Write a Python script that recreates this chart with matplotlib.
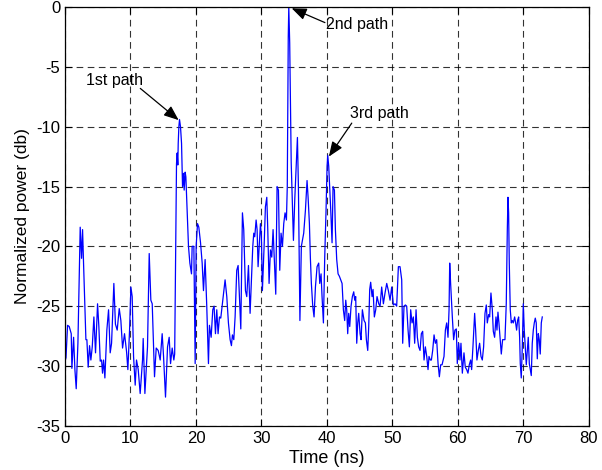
#!/usr/bin/env python3
"""
Normalized channel power delay profile with the three strongest paths marked.
Writes out.png.
"""

import matplotlib
matplotlib.use('Agg')
import matplotlib.pyplot as plt

plt.rcParams['font.family'] = ['Liberation Sans', 'DejaVu Sans']
plt.rcParams['axes.unicode_minus'] = False

# measured profile: time (ns) and normalized power (dB)
time_ns = [
    0.00, 0.15, 0.39, 0.64, 0.95, 1.05, 1.31, 1.51, 1.71, 1.97,
    2.32, 2.53, 2.68, 2.83, 3.19, 3.34, 3.54, 3.75, 3.95, 4.16,
    4.41, 4.66, 4.97, 5.17, 5.38, 5.58, 5.73, 5.89, 6.09, 6.39,
    6.65, 6.90, 7.11, 7.46, 7.70, 7.97, 8.28, 8.53, 8.79, 9.09,
    9.40, 9.60, 9.86, 10.06, 10.26, 10.47, 10.72, 10.92, 11.18, 11.48,
    11.84, 11.94, 12.20, 12.40, 12.60, 12.86, 13.11, 13.32, 13.67, 13.93,
    14.23, 14.54, 14.84, 15.05, 15.35, 15.66, 15.91, 16.12, 16.37, 16.62,
    16.75, 17.03, 17.13, 17.23, 17.29, 17.39, 17.49, 17.64, 17.80, 17.95,
    18.10, 18.20, 18.35, 18.46, 18.66, 18.86, 19.07, 19.32, 19.42, 19.68,
    19.88, 20.03, 20.24, 20.44, 20.70, 20.95, 21.15, 21.40, 21.65, 21.91,
    22.06, 22.32, 22.57, 22.77, 22.98, 23.18, 23.38, 23.59, 23.79, 24.00,
    24.20, 24.45, 24.71, 24.96, 25.22, 25.42, 25.57, 25.78, 25.98, 26.23,
    26.44, 26.64, 26.85, 27.10, 27.30, 27.56, 27.76, 28.02, 28.27, 28.52,
    28.68, 28.83, 28.98, 29.19, 29.34, 29.49, 29.70, 29.85, 30.00, 30.15,
    30.41, 30.61, 30.82, 30.97, 31.17, 31.38, 31.58, 31.78, 31.99, 32.19,
    32.39, 32.60, 32.80, 33.00, 33.21, 33.41, 33.61, 33.82, 33.95, 34.10,
    34.18, 34.32, 34.55, 34.89, 35.10, 35.50, 35.65, 35.88, 36.10, 36.46,
    36.72, 36.97, 37.13, 37.33, 37.48, 37.63, 37.84, 38.04, 38.25, 38.50,
    38.75, 38.91, 39.11, 39.26, 39.47, 39.67, 39.87, 40.03, 40.13, 40.28,
    40.43, 40.59, 40.79, 40.94, 41.15, 41.30, 41.50, 41.71, 41.91, 42.11,
    42.32, 42.52, 42.72, 42.88, 43.03, 43.18, 43.33, 43.49, 43.69, 43.89,
    44.10, 44.25, 44.40, 44.56, 44.71, 44.86, 45.07, 45.22, 45.42, 45.68,
    45.88, 46.03, 46.24, 46.39, 46.54, 46.69, 46.90, 47.05, 47.25, 47.46,
    47.66, 47.92, 48.12, 48.37, 48.63, 48.88, 49.14, 49.39, 49.65, 49.90,
    50.16, 50.41, 50.66, 50.92, 51.17, 51.43, 51.58, 51.78, 51.99, 52.19,
    52.40, 52.60, 52.80, 53.01, 53.21, 53.41, 53.62, 53.82, 54.02, 54.23,
    54.43, 54.63, 54.84, 55.04, 55.25, 55.45, 55.60, 55.80, 55.96, 56.16,
    56.37, 56.57, 56.77, 56.98, 57.18, 57.38, 57.59, 57.89, 58.10, 58.30,
    58.50, 58.66, 58.76, 58.90, 59.16, 59.36, 59.56, 59.77, 59.92, 60.13,
    60.33, 60.48, 60.69, 60.94, 61.14, 61.35, 61.55, 61.75, 61.96, 62.11,
    62.31, 62.57, 62.72, 62.92, 63.13, 63.33, 63.54, 63.74, 63.94, 64.15,
    64.35, 64.50, 64.71, 64.86, 65.06, 65.27, 65.42, 65.62, 65.83, 65.98,
    66.13, 66.28, 66.44, 66.64, 66.84, 67.05, 67.20, 67.40, 67.56, 67.66,
    67.76, 67.86, 68.01, 68.17, 68.32, 68.47, 68.68, 68.83, 68.98, 69.13,
    69.29, 69.44, 69.54, 69.69, 69.85, 70.00, 70.15, 70.30, 70.46, 70.61,
    70.76, 70.92, 71.07, 71.22, 71.37, 71.53, 71.68, 71.83, 71.98, 72.14,
    72.29, 72.44, 72.59, 72.75, 72.90,
]
power_db = [
    -29.6, -29.3, -26.6, -26.7, -27.3, -30.2, -27.6, -30.3, -31.9, -28.1,
    -18.4, -21.0, -18.6, -21.4, -27.8, -27.8, -30.1, -28.3, -29.5, -28.4,
    -25.9, -28.9, -24.8, -26.7, -29.6, -29.5, -30.6, -29.5, -31.0, -27.0,
    -25.3, -28.9, -28.1, -23.1, -26.5, -27.0, -25.2, -26.2, -28.5, -27.3,
    -28.8, -30.3, -27.0, -23.4, -24.2, -29.2, -31.6, -29.5, -30.3, -32.3,
    -29.5, -27.7, -32.3, -30.3, -28.4, -20.6, -24.5, -24.8, -30.9, -28.5,
    -28.7, -29.5, -27.3, -29.2, -32.6, -28.4, -27.6, -29.8, -28.5, -29.5,
    -29.0, -13.1, -12.2, -13.2, -11.4, -10.0, -9.4, -10.0, -11.4, -15.0,
    -13.9, -15.3, -13.8, -14.2, -17.0, -20.0, -21.4, -22.3, -20.0, -20.0,
    -29.8, -20.0, -18.1, -18.4, -19.7, -21.4, -23.7, -21.1, -25.0, -29.8,
    -26.6, -27.6, -25.3, -25.0, -27.3, -25.3, -27.3, -25.9, -26.0, -25.0,
    -24.0, -22.8, -24.2, -26.4, -27.8, -28.3, -27.4, -27.8, -25.9, -22.0,
    -21.6, -24.2, -26.9, -17.2, -18.6, -23.7, -24.2, -21.6, -25.6, -22.3,
    -20.0, -18.9, -19.2, -17.8, -18.6, -21.7, -19.5, -18.1, -19.2, -23.7,
    -20.0, -16.7, -15.9, -18.6, -23.1, -20.3, -20.9, -18.6, -21.4, -24.0,
    -15.0, -15.3, -22.0, -18.9, -20.0, -18.1, -17.2, -17.8, -15.0, -2.5,
    0.0, -3.0, -13.0, -19.5, -16.0, -10.9, -15.0, -26.2, -20.0, -18.9,
    -17.0, -14.5, -15.9, -18.1, -21.0, -23.1, -25.0, -25.9, -23.4, -21.7,
    -21.4, -23.1, -22.3, -24.2, -26.4, -20.9, -17.0, -13.3, -12.4, -13.3,
    -15.0, -17.0, -19.7, -15.0, -15.3, -18.6, -21.1, -22.3, -22.5, -22.8,
    -23.1, -25.3, -26.2, -24.5, -25.3, -27.3, -25.6, -26.7, -25.0, -24.2,
    -23.8, -24.5, -24.2, -28.1, -26.4, -25.6, -27.3, -27.8, -25.3, -26.2,
    -26.4, -27.8, -28.7, -26.7, -23.6, -23.0, -24.2, -23.6, -25.9, -25.3,
    -24.2, -24.8, -25.0, -23.4, -24.8, -23.9, -23.1, -23.7, -24.5, -23.4,
    -24.9, -24.8, -25.0, -21.7, -21.7, -22.8, -28.1, -25.0, -24.9, -25.0,
    -27.0, -28.4, -25.3, -26.4, -25.9, -28.1, -25.3, -27.6, -28.4, -28.7,
    -27.3, -27.1, -29.5, -28.4, -29.2, -30.3, -29.2, -29.5, -29.5, -28.7,
    -27.4, -28.1, -27.8, -29.8, -30.9, -29.9, -29.9, -29.2, -27.0, -26.4,
    -27.6, -25.3, -21.4, -23.1, -25.9, -27.8, -27.0, -26.9, -29.8, -28.1,
    -29.5, -28.1, -30.6, -28.9, -30.1, -30.3, -30.6, -29.9, -29.5, -30.3,
    -28.4, -25.6, -27.0, -29.5, -28.7, -28.1, -29.2, -29.5, -28.4, -25.6,
    -24.9, -26.4, -25.7, -25.9, -23.9, -25.3, -27.1, -27.6, -25.9, -27.0,
    -25.5, -26.4, -27.6, -29.0, -27.8, -27.8, -27.8, -24.8, -18.6, -15.9,
    -17.2, -21.4, -25.3, -26.4, -26.2, -26.4, -25.9, -26.4, -27.0, -26.2,
    -25.9, -27.6, -29.8, -31.0, -28.4, -24.8, -27.0, -28.4, -29.9, -28.7,
    -27.6, -29.8, -30.3, -30.8, -28.1, -27.0, -26.4, -26.0, -26.4, -29.4,
    -27.3, -27.8, -29.0, -26.4, -25.9,
]

# path labels: text, arrow tip (t, dB), arrow tail (t, dB), text anchor (t, dB)
path_labels = ["1st path", "2nd path", "3rd path"]
path_tips = [(17.36, -9.45), (34.62, -0.1), (40.3, -12.5)]
path_tails = [(11.5, -6.8), (39.7, -1.3), (43.8, -9.7)]
path_text = [(3.2, -6.1), (39.9, -1.45), (43.6, -8.9)]

fig = plt.figure(figsize=(6.02, 4.70), dpi=100)
ax = fig.add_axes([0.108, 0.094, 0.870, 0.891])

ax.plot(time_ns, power_db, color='#0000ff', lw=0.9)

for lab, tip, tail, pos in zip(path_labels, path_tips, path_tails, path_text):
    ax.annotate("", xy=tip, xytext=tail,
                arrowprops=dict(arrowstyle='-|>,head_length=0.75,head_width=0.3',
                                color='k', lw=0.9, mutation_scale=12,
                                shrinkA=0, shrinkB=0))
    ax.text(pos[0], pos[1], lab, fontsize=11.5, ha='left', va='center')

ax.set_xlim(0, 80)
ax.set_ylim(-35, 0)
ax.set_xticks(range(0, 81, 10))
ax.set_yticks(range(-35, 1, 5))
ax.grid(True, color='k', linestyle=(0, (6, 4)), lw=0.8, alpha=0.8)
ax.tick_params(direction='in', top=True, right=True, labelsize=12, length=5)
for s in ax.spines.values():
    s.set_linewidth(0.9)

ax.set_xlabel("Time (ns)", fontsize=13, labelpad=3)
ax.set_ylabel("Normalized power (db)", fontsize=12.5, labelpad=4)

fig.savefig("out.png", dpi=100)
